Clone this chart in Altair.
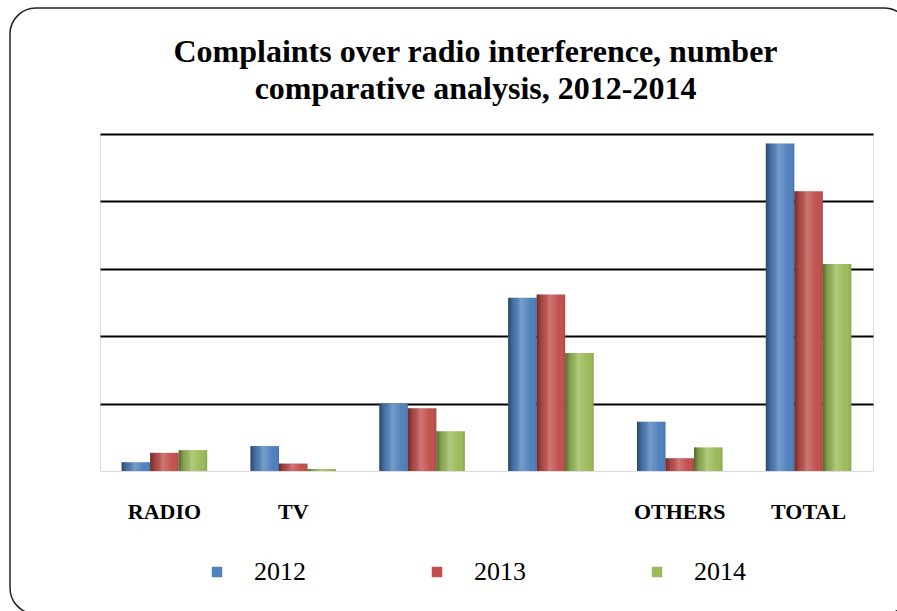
import altair as alt
import pandas as pd

categories = ["RADIO", "TV", "CAT3", "CAT4", "OTHERS", "TOTAL"]
cat_labels = ["RADIO", "TV", "", "", "OTHERS", "TOTAL"]
years = ["2012", "2013", "2014"]
v2012 = [13, 37, 100, 257, 73, 486]
v2013 = [27, 11, 93, 262, 19, 415]
v2014 = [31, 3, 59, 175, 35, 307]
colors = ["#4F81BD", "#C0504D", "#9BBB59"]
title_lines = ["Complaints over radio interference, number", "comparative analysis, 2012-2014"]

rows = []
for y, vals in zip(years, [v2012, v2013, v2014]):
    for c, v in zip(categories, vals):
        rows.append({"category": c, "year": y, "value": v})
df = pd.DataFrame(rows)

label_map = "{" + ",".join(f"'{c}':'{l}'" for c, l in zip(categories, cat_labels)) + "}"

x_enc = alt.X("category:N", sort=categories,
              scale=alt.Scale(paddingInner=0.336, paddingOuter=0.168),
              axis=alt.Axis(title=None, labelExpr=f"{label_map}[datum.value]",
                            labelFont="Liberation Serif", labelFontWeight="bold",
                            labelFontSize=22, labelColor="black", labelPadding=30,
                            labelAngle=0, ticks=False, domain=False, grid=False))
y_enc = alt.Y("value:Q", scale=alt.Scale(domain=[0, 500], nice=False),
              axis=alt.Axis(title=None, labels=False, ticks=False, domain=False,
                            values=[100, 200, 300, 400, 500], grid=True,
                            gridColor="black", gridWidth=2, gridOpacity=1))
xoff = alt.XOffset("year:N", sort=years, scale=alt.Scale(paddingInner=0, paddingOuter=0))

base = alt.Chart(df)

bars = base.mark_bar().encode(
    x=x_enc, y=y_enc, xOffset=xoff,
    color=alt.Color("year:N", sort=years,
                    scale=alt.Scale(domain=years, range=colors),
                    legend=alt.Legend(title=None, orient="none", direction="horizontal",
                                      legendX=104, legendY=425, symbolType="square",
                                      symbolSize=110, symbolStrokeWidth=0,
                                      labelFont="Liberation Serif", labelFontSize=26,
                                      labelColor="black", labelOffset=24,
                                      columnPadding=118, padding=0)),
)

shade = alt.LinearGradient(
    gradient="linear", x1=0, x2=1, y1=0, y2=0,
    stops=[
        alt.GradientStop(offset=0, color="rgba(0,0,0,0.45)"),
        alt.GradientStop(offset=0.18, color="rgba(0,0,0,0.12)"),
        alt.GradientStop(offset=0.45, color="rgba(255,255,255,0.22)"),
        alt.GradientStop(offset=0.8, color="rgba(255,255,255,0.0)"),
        alt.GradientStop(offset=1, color="rgba(0,0,0,0.12)"),
    ],
)
overlay = base.mark_bar(color=shade).encode(x=x_enc, y=y_enc, xOffset=xoff)

frame = alt.Chart(pd.DataFrame({"f": [0]})).mark_rect(
    fill="transparent", stroke="#222", strokeWidth=1.5, cornerRadius=26
).encode(x=alt.value(-90), x2=alt.value(810), y=alt.value(-126), y2=alt.value(480))

chart = alt.layer(frame, bars, overlay).properties(
    width=773, height=337,
    autosize=alt.AutoSizeParams(type="none"),
    padding={"left": 100, "top": 134, "right": 24, "bottom": 140},
    title=alt.TitleParams(text=title_lines, font="Liberation Serif", fontSize=32,
                          fontWeight="bold", color="black", anchor="middle",
                          dx=-11, dy=127, offset=28, lineHeight=37),
).configure_view(stroke="#a0a0a0", strokeWidth=1.5).configure_legend(
    labelFont="Liberation Serif"
).configure(background="white")

chart.save("out.html", embed_options={"renderer": "svg", "actions": False})
